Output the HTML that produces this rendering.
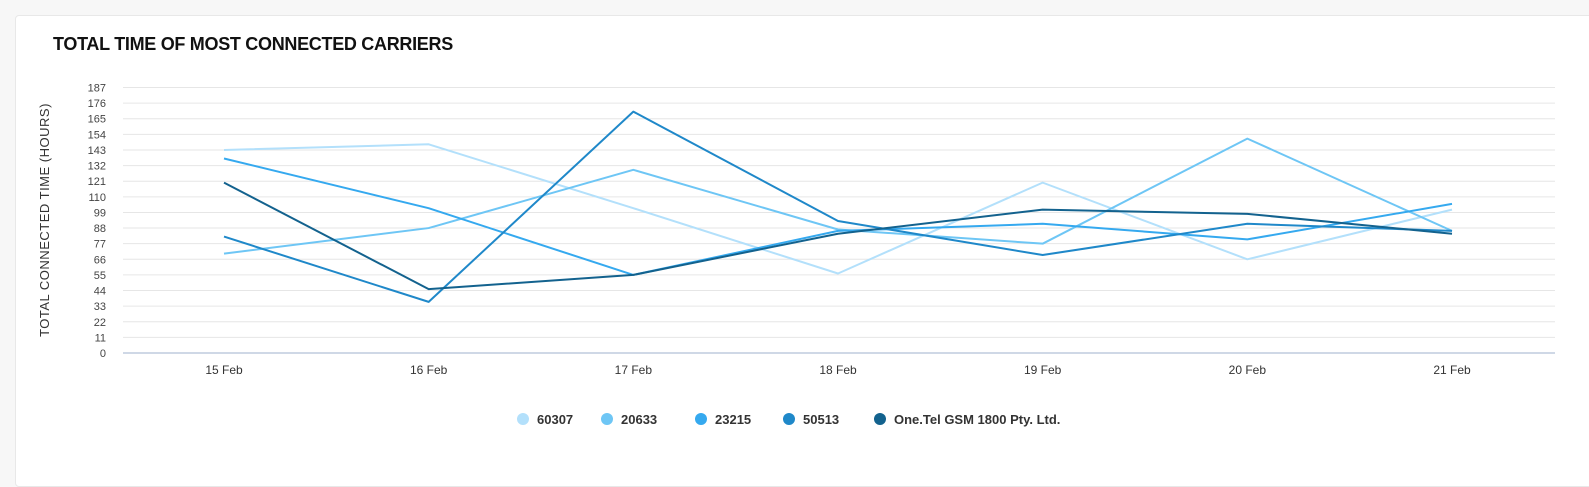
<!DOCTYPE html>
<html><head><meta charset="utf-8"><style>
body{margin:0;background:#f7f7f7;font-family:"Liberation Sans",sans-serif;}
#card{position:absolute;left:15px;top:15px;width:1590px;height:470px;background:#fff;border:1px solid #e8e8e8;border-radius:4px;}
#title{position:absolute;left:53px;top:34px;font-size:18px;font-weight:bold;color:#111;letter-spacing:-0.3px;}
svg{position:absolute;left:0;top:0;}
</style></head><body>
<div id="card"></div>
<div id="title">TOTAL TIME OF MOST CONNECTED CARRIERS</div>
<svg id="chart" width="1589" height="469"></svg>
<script>
const categories=["15 Feb","16 Feb","17 Feb","18 Feb","19 Feb","20 Feb","21 Feb"];
const yTicks=[0,11,22,33,44,55,66,77,88,99,110,121,132,143,154,165,176,187];
const seriesNames=["60307","20633","23215","50513","One.Tel GSM 1800 Pty. Ltd."];
const s60307=[143,147,102,56,120,66,101];
const s20633=[70,88,129,87,77,151,86];
const s23215=[137,102,55,86,91,80,105];
const s50513=[82,36,170,93,69,91,86];
const sOneTel=[120,45,55,84,101,98,84];
const allSeries=[s60307,s20633,s23215,s50513,sOneTel];
const colors=["#b3e0fb","#6ec6f5","#35a9ef","#1f88c9","#13628e"];
const svg=document.getElementById('chart');const NS="http://www.w3.org/2000/svg";
const x0=224,x1=1452,yb=353,yt=87.5,ymax=187,left=123,right=1555;
const xs=i=>x0+(x1-x0)*i/(categories.length-1);
const ys=v=>yb-(yb-yt)*v/ymax;
function mk(t,a){const e=document.createElementNS(NS,t);for(const k in a)e.setAttribute(k,a[k]);svg.appendChild(e);return e;}
yTicks.forEach(v=>{
 const l=mk('line',{x1:left,x2:right,y1:ys(v),y2:ys(v),stroke:v===0?'#cfd8e6':'#e6e6e6','stroke-width':v===0?2:1});
 
 
 const t=mk('text',{x:106,y:ys(v)+4,'text-anchor':'end','font-size':11,fill:'#444'});t.textContent=v;
 
 
});
categories.forEach((c,i)=>{
 const t=mk('text',{x:xs(i),y:374,'text-anchor':'middle','font-size':12,fill:'#333'});t.textContent=c;
 
 
});
const yt2=mk('text',{transform:'translate(49,220) rotate(-90)','text-anchor':'middle','font-size':13,fill:'#333','letter-spacing':'0.5'});
yt2.textContent='TOTAL CONNECTED TIME (HOURS)';


allSeries.forEach((s,k)=>{
 const p=mk('polyline',{points:s.map((v,i)=>xs(i)+','+ys(v)).join(' '),fill:'none',stroke:colors[k],'stroke-width':2,'stroke-linejoin':'round'});
 
 
});
const legX=[523,607,701,789,880];
seriesNames.forEach((n,k)=>{
 const c=mk('circle',{cx:legX[k],cy:419,r:6,fill:colors[k]});
 
 
 const t=mk('text',{x:legX[k]+14,y:424,'font-size':13,'font-weight':'bold',fill:'#333'});t.textContent=n;
 
 
});
</script>
</body></html>
